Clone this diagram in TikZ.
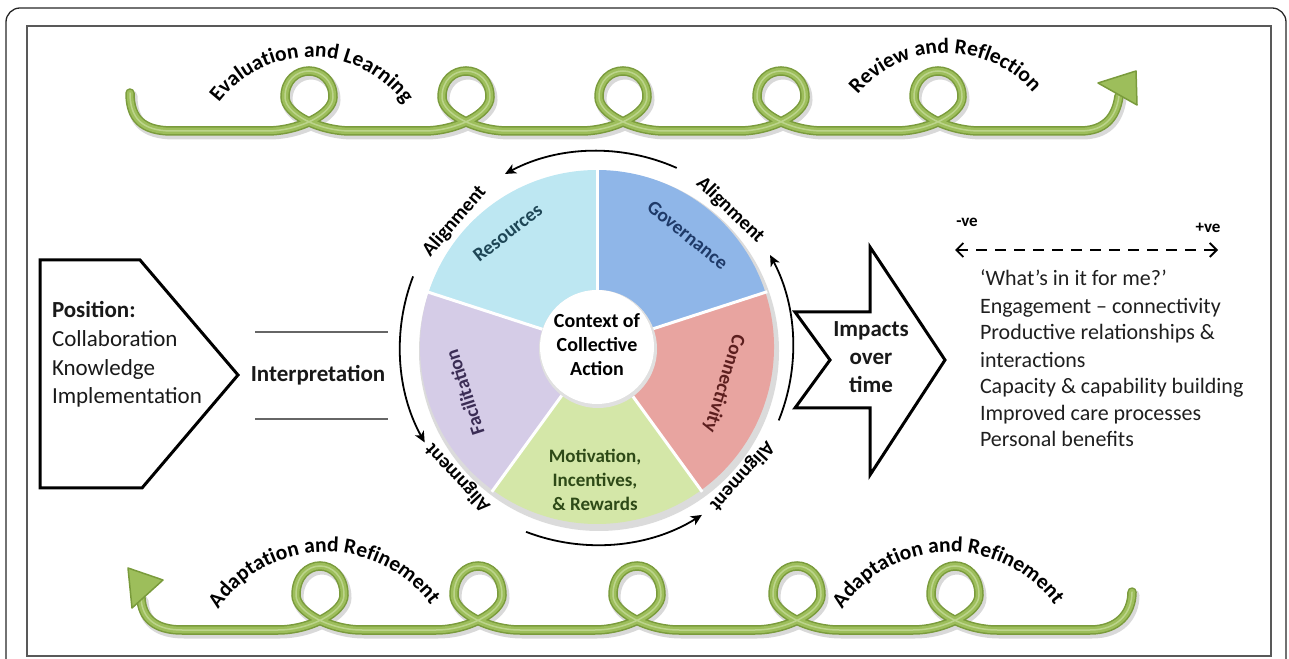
\documentclass[tikz,border=0pt]{standalone}
\usepackage{fontspec}
\setmainfont{Carlito}
\usetikzlibrary{arrows.meta,decorations.text}
\definecolor{gdark}{HTML}{7A9B3C}
\definecolor{gmid}{HTML}{9DBE5B}
\definecolor{glight}{HTML}{C4DA98}
\definecolor{rescol}{HTML}{BDE7F2}
\definecolor{govcol}{HTML}{8FB6E8}
\definecolor{concol}{HTML}{E8A4A0}
\definecolor{motcol}{HTML}{D4E7A8}
\definecolor{faccol}{HTML}{D5CCE7}
\definecolor{restxt}{HTML}{1E4656}
\definecolor{govtxt}{HTML}{1F3A68}
\definecolor{contxt}{HTML}{5C1E1E}
\definecolor{mottxt}{HTML}{2E4A17}
\definecolor{factxt}{HTML}{3B2D55}
\begin{document}
\begin{tikzpicture}[x=1pt,y=1pt,
  every node/.style={inner sep=0pt, outer sep=0pt},
  frameout/.style={draw=black!85, line width=1.3pt, rounded corners=14pt},
  framein/.style={draw=black!65, line width=2pt},
  vineshadow/.style={draw=black!15, line width=11pt, line cap=round},
  vineouter/.style={draw=gdark, line width=9.5pt, line cap=round},
  vinemid/.style={draw=gmid, line width=6.5pt, line cap=round},
  vinehi/.style={draw=glight, line width=1.5pt, line cap=round, opacity=0.8},
  vinehead/.style={fill=gmid, draw=gdark, line width=1.5pt, line join=round},
  arctext/.style={decorate, decoration={text along path, text align=center, text={#1}}},
  arcarrow/.style={draw=black, line width=1.8pt, -{Stealth[length=11pt,width=10pt,inset=3pt]}},
  alg/.style={font=\bfseries\fontsize{20}{20}\selectfont},
  seclbl/.style={font=\bfseries\fontsize{19.5}{22}\selectfont, align=center},
  thickshape/.style={draw=black, line width=3pt, line join=miter},
  bodytxt/.style={font=\fontsize{23}{28}\selectfont, anchor=base west, text=black!90},
  listtxt/.style={font=\fontsize{22}{27}\selectfont, anchor=base west, text=black!88},
  boldtxt/.style={font=\bfseries\fontsize{23}{28}\selectfont, text=black!90}
]
\useasboundingbox (0,0) rectangle (1289,658);
\clip (0,0) rectangle (1289,658);

% frames
\draw[frameout] (6,-30) rectangle (1286,650);
\draw[framein] (27,2) rectangle (1271,632);

% ---------- top vine ----------
\def\toppath{(130,565) .. controls (130,540) and (142,527) .. (172,527)
  foreach \cx in {309,466,623,781,938} {
   -- (\cx-42,527) .. controls (\cx-10,527) and (\cx+24,544) .. (\cx+24,561)
   .. controls (\cx+24,578) and (\cx+12,587) .. (\cx,587)
   .. controls (\cx-12,587) and (\cx-24,578) .. (\cx-24,561)
   .. controls (\cx-24,544) and (\cx+10,527) .. (\cx+42,527) }
  -- (1080,527) .. controls (1104,527) and (1116,540) .. (1119,562)}
\path[vineshadow, transform canvas={shift={(2pt,-3pt)}}] \toppath;
\path[vineouter] \toppath;
\path[vinemid] \toppath;
\path[vinehi] \toppath;
\filldraw[vinehead] (1098,575) -- (1136,587) -- (1137,553) -- cycle;

% ---------- bottom vine ----------
\def\botpath{(141,60) .. controls (142,40) and (155,28) .. (182,28)
  foreach \cx in {320,478,637,797,955} {
   -- (\cx-42,28) .. controls (\cx-10,28) and (\cx+24,46) .. (\cx+24,63)
   .. controls (\cx+24,82) and (\cx+12,92) .. (\cx,92)
   .. controls (\cx-12,92) and (\cx-24,82) .. (\cx-24,63)
   .. controls (\cx-24,46) and (\cx+10,28) .. (\cx+42,28) }
  -- (1090,28) .. controls (1118,28) and (1132,45) .. (1132,66)}
\path[vineshadow, transform canvas={shift={(2pt,-3pt)}}] \botpath;
\path[vineouter] \botpath;
\path[vinemid] \botpath;
\path[vinehi] \botpath;
\filldraw[vinehead] (128,90) -- (163,78) -- (132,50) -- cycle;

% ---------- arc texts ----------
\coordinate (tc1) at (311,485);
\coordinate (tc2) at (946,490);
\coordinate (bc1) at (326,-24);
\coordinate (bc2) at (950,-24);
\path[arctext={|\bfseries\fontsize{21.5}{22}\selectfont|Evaluation and Learning}]
  ([shift={(149:116)}]tc1) arc[start angle=149, end angle=30, radius=116];
\path[arctext={|\bfseries\fontsize{21.5}{22}\selectfont|Review and Reflection}]
  ([shift={(148:115)}]tc2) arc[start angle=148, end angle=33, radius=115];
\path[arctext={|\bfseries\fontsize{21.5}{22}\selectfont|Adaptation and Refinement}]
  ([shift={(150.7:130)}]bc1) arc[start angle=150.7, end angle=31.5, radius=130];
\path[arctext={|\bfseries\fontsize{21.5}{22}\selectfont|Adaptation and Refinement}]
  ([shift={(150.7:130)}]bc2) arc[start angle=150.7, end angle=31.5, radius=130];

% ---------- wheel ----------
\coordinate (wc) at (597,311);
\fill[black!14] ([shift={(2,-4)}]wc) circle (180);
\fill[govcol] (wc) -- ([shift={(18:177)}]wc) arc[start angle=18, end angle=90, radius=177] -- cycle;
\fill[rescol] (wc) -- ([shift={(90:177)}]wc) arc[start angle=90, end angle=162, radius=177] -- cycle;
\fill[faccol] (wc) -- ([shift={(162:177)}]wc) arc[start angle=162, end angle=234, radius=177] -- cycle;
\fill[motcol] (wc) -- ([shift={(234:177)}]wc) arc[start angle=234, end angle=306, radius=177] -- cycle;
\fill[concol] (wc) -- ([shift={(306:177)}]wc) arc[start angle=306, end angle=378, radius=177] -- cycle;
\foreach \a in {18,90,162,234,306}
  \draw[white, line width=3pt] (wc) -- ([shift={(\a:179)}]wc);
\fill[black!12] ([shift={(1,-2)}]wc) circle (59);
\fill[white] (wc) circle (57);

\node[font=\bfseries\fontsize{20}{24}\selectfont, align=center] (ctx) at ([shift={(0,2)}]wc) {Context of\\Collective\\Action};
\node[seclbl, text=restxt, rotate=38] (res) at ([shift={(128:145)}]wc) {Resources};
\node[seclbl, text=govtxt, rotate=-39] (gov) at ([shift={(51:144)}]wc) {Governance};
\node[seclbl, text=contxt, rotate=-107] (con) at ([shift={(-16:132)}]wc) {Connectivity};
\node[seclbl, text=factxt, rotate=108] (fac) at ([shift={(199:140)}]wc) {Facilitation};
\node[seclbl, text=mottxt, font=\bfseries\fontsize{19}{24}\selectfont] (mot) at ([shift={(-2,-133)}]wc) {Motivation,\\Incentives,\\\& Rewards};

% alignment labels
\node[alg, rotate=49] (al1) at ([shift={(138.6:190)}]wc) {Alignment};
\node[alg, rotate=-44] (al2) at ([shift={(45.8:191)}]wc) {Alignment};
\node[alg, rotate=-132] (al3) at ([shift={(-41.7:194)}]wc) {Alignment};
\node[alg, rotate=133] (al4) at ([shift={(223.3:191)}]wc) {Alignment};

% curved arrows
\draw[arcarrow] ([shift={(66:196)}]wc) arc[start angle=66, end angle=118, radius=196];
\draw[arcarrow] ([shift={(159:197)}]wc) arc[start angle=159, end angle=209, radius=197];
\draw[arcarrow] ([shift={(249:198)}]wc) arc[start angle=249, end angle=302, radius=198];
\draw[arcarrow] ([shift={(-22:196)}]wc) arc[start angle=-22, end angle=28, radius=196];

% ---------- left: position ----------
\draw[thickshape] (40,398) -- (140,398) -- (238,283) -- (142,170) -- (40,170) -- cycle;
\node[bodytxt, font=\bfseries\fontsize{23}{28}\selectfont] (pos) at (52,340) {Position:};
\node[bodytxt] (colla) at (52,311) {Collaboration};
\node[bodytxt] (know) at (52,282) {Knowledge};
\node[bodytxt] (impl) at (52,254) {Implementation};

\node[boldtxt] (interp) at (318,283) {Interpretation};
\coordinate (l1a) at (255,326); \coordinate (l1b) at (388,326);
\coordinate (l2a) at (255,239); \coordinate (l2b) at (388,239);
\draw[black!60, line width=1.6pt] (l1a) -- (l1b);
\draw[black!60, line width=1.6pt] (l2a) -- (l2b);

% ---------- impacts arrow ----------
\draw[thickshape] (795,346) -- (870,346) -- (870,411) -- (945,298) -- (870,183) -- (870,250) -- (795,250) -- (830,298) -- cycle;
\node[boldtxt, align=center, font=\bfseries\fontsize{23}{28}\selectfont] (imp) at (871,301) {Impacts\\over\\time};

% ---------- right list ----------
\coordinate (da1) at (955,408);
\coordinate (da2) at (1218,408);
\draw[line width=1.8pt, dash pattern=on 11pt off 8pt, {Straight Barb[length=7pt,width=14pt]}-{Straight Barb[length=7pt,width=14pt]}] (da1) -- (da2);
\node[font=\bfseries\fontsize{17}{20}\selectfont] (neg) at (967,436) {-ve};
\node[font=\bfseries\fontsize{17}{20}\selectfont] (posv) at (1208,430) {+ve};

\node[listtxt] (w1) at (980,372) {‘What’s in it for me?’};
\node[listtxt] (w2) at (980,344) {Engagement – connectivity};
\node[listtxt] (w3) at (980,318) {Productive relationships \&};
\node[listtxt] (w4) at (980,290) {interactions};
\node[listtxt] (w5) at (980,264) {Capacity \& capability building};
\node[listtxt] (w6) at (980,237) {Improved care processes};
\node[listtxt] (w7) at (980,211) {Personal benefits};
\end{tikzpicture}
\end{document}
